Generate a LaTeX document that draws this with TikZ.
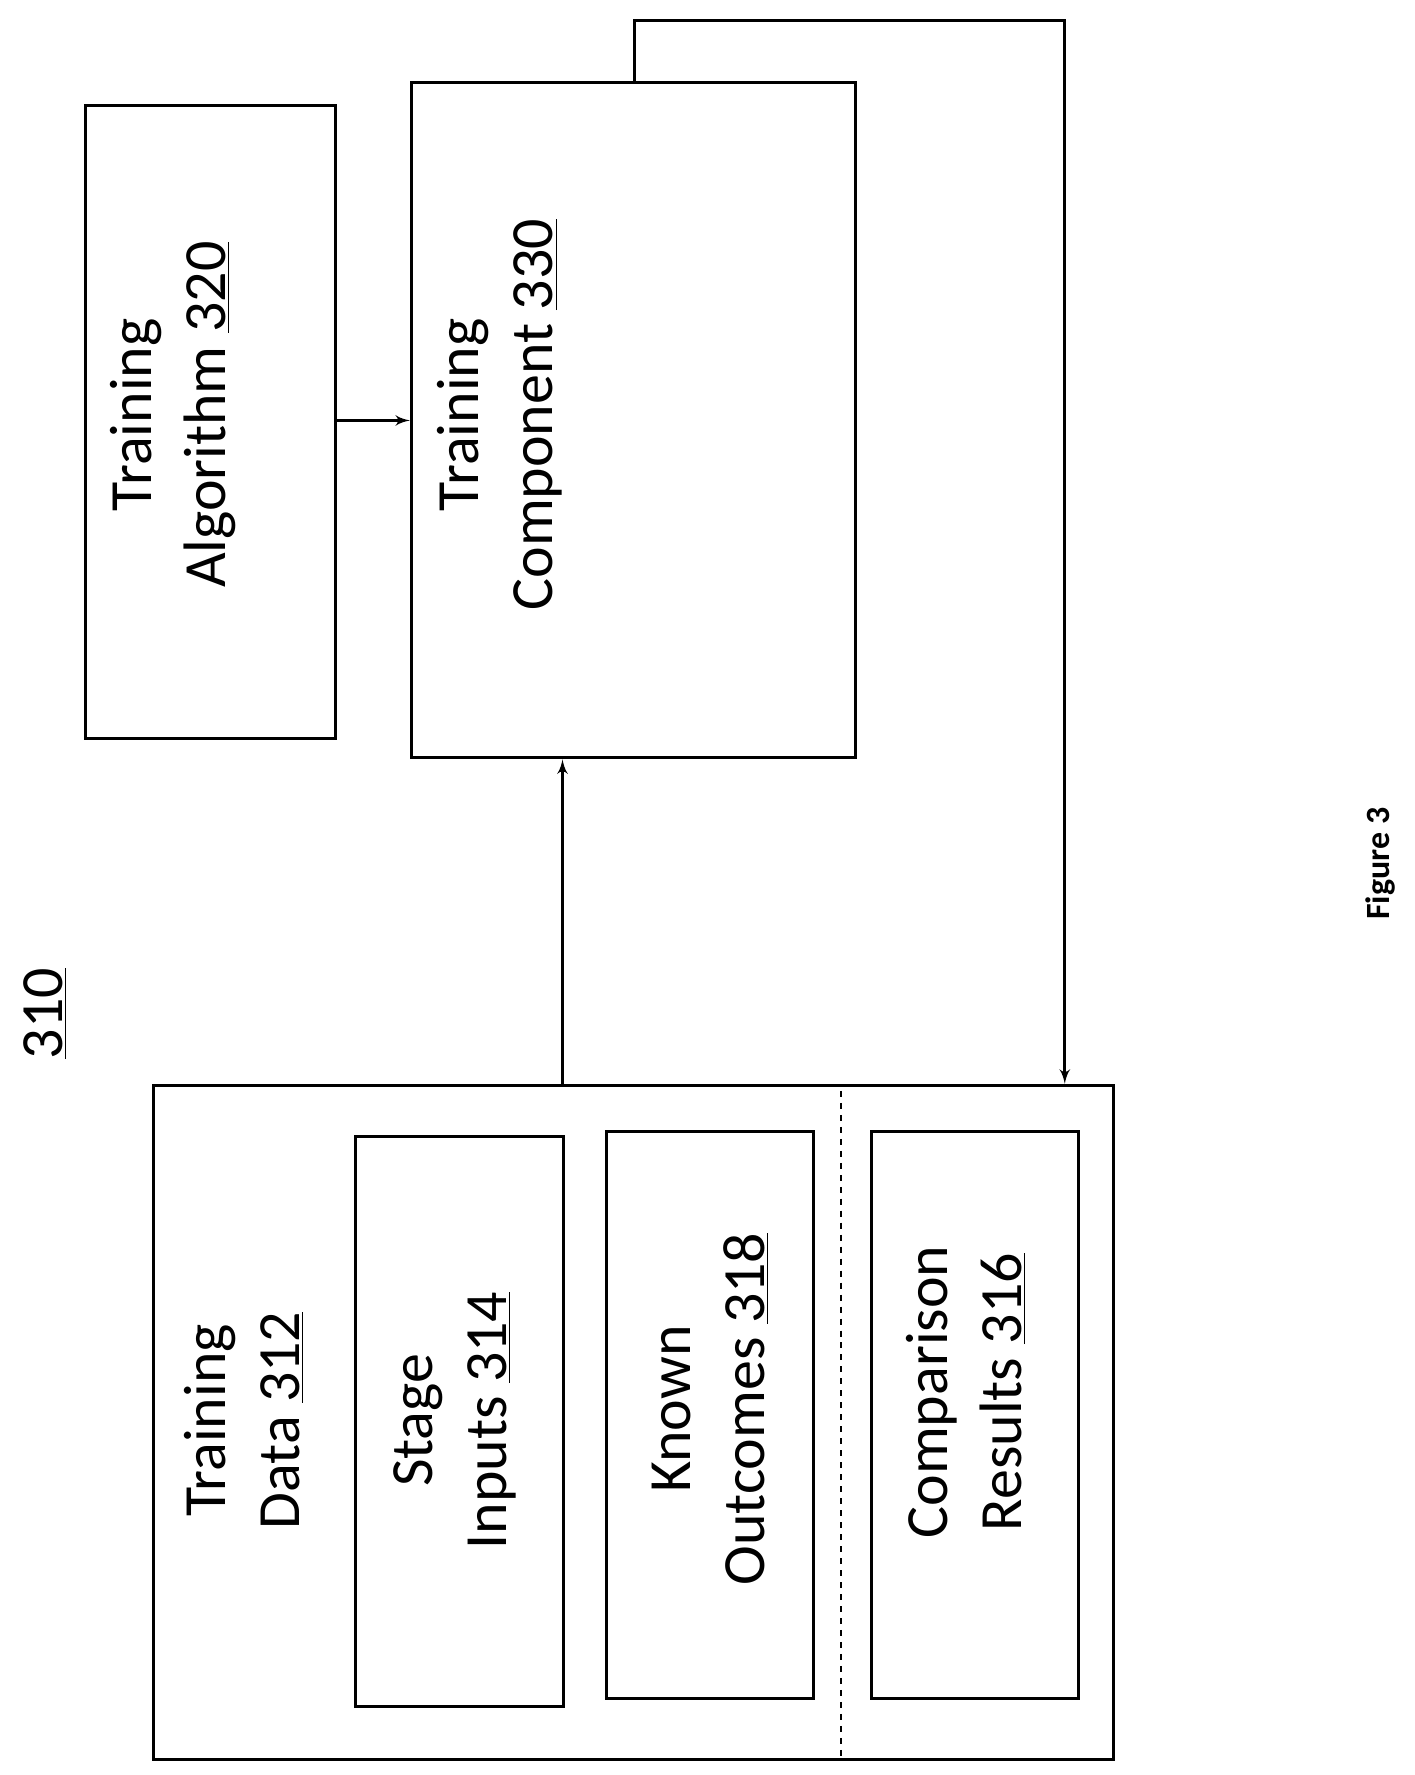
\documentclass[tikz,border=0pt]{standalone}
\usepackage{fontspec}
\setmainfont{Carlito}
\usetikzlibrary{arrows}
\newcommand{\ul}[1]{\underline{#1}}

\begin{document}
\begin{tikzpicture}[>=latex', x=0.02cm, y=-0.02cm, line width=1.5pt, every node/.style={font=\fontsize{30}{37}\selectfont}]
  \useasboundingbox (0,0) rectangle (1245,1562);
  \tikzset{blk/.style={draw, inner sep=0pt},
           lbl/.style={rotate=90, align=center}}
  % Boxes
  \node[blk, minimum width=220*0.02cm, minimum height=557*0.02cm] (alg) at (185,371.5) {};
  \node[blk, minimum width=391*0.02cm, minimum height=594*0.02cm] (comp) at (557.5,370) {};
  \node[blk, minimum width=845*0.02cm, minimum height=593*0.02cm] (data) at (557.5,1251.5) {};
  \node[blk, minimum width=183*0.02cm, minimum height=502*0.02cm] (stage) at (404.5,1251) {};
  \node[blk, minimum width=182*0.02cm, minimum height=499*0.02cm] (known) at (625,1245.5) {};
  \node[blk, minimum width=182*0.02cm, minimum height=499*0.02cm] (cmpres) at (858,1245.5) {};
  % Labels
  \node[lbl] (algtxt) at (152,365) {Training\\Algorithm \ul{320}};
  \node[lbl] (comptxt) at (440,365) {Training\\Component \ul{330}};
  \node[lbl] (datatxt) at (215,1250) {Training\\Data \ul{312}};
  \node[lbl] (stagetxt) at (400,1250) {Stage\\Inputs \ul{314}};
  \node[lbl] (knowntxt) at (625,1240) {Known\\Outcomes \ul{318}};
  \node[lbl] (cmptxt) at (850,1225) {Comparison\\Results \ul{316}};
  \node[lbl] (sys) at (40,892) {\ul{310}};
  \node[rotate=90, font=\fontsize{17}{20}\selectfont\bfseries] (fig) at (1215,760) {Figure 3};
  % Edges
  \coordinate (sep1) at (740,960);
  \coordinate (sep2) at (740,1545);
  \draw[dashed, line width=1pt] (sep1) -- (sep2);
  \draw[->] (alg.east |- 0,370) -- (comp.west |- 0,370);
  \draw[->] (data.north -| 495,0) -- (comp.south -| 495,0);
  \coordinate (up1) at (558,18);
  \coordinate (up2) at (937,18);
  \draw[->] (comp.north -| up1) -- (up1) -- (up2) -- (data.north -| up2);
\end{tikzpicture}
\end{document}
